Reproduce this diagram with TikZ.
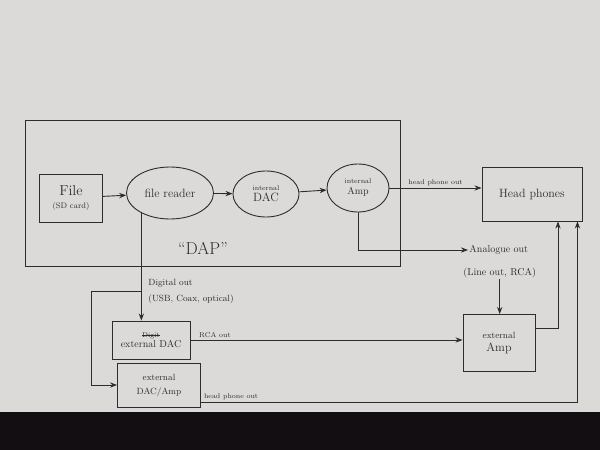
\documentclass[tikz,border=0pt]{standalone}
\usepackage{tikz}
\usetikzlibrary{arrows.meta,calc,shapes.geometric,positioning}
\definecolor{paper}{HTML}{DCD9D9}
\definecolor{table}{HTML}{120E12}
\definecolor{pen}{HTML}{2E2C2C}
\newcommand\struckout[1]{\setbox0\hbox{#1}\rlap{\raisebox{0.5ex}{\rule{\wd0}{0.5pt}}}\box0}
\tikzset {
  >=Stealth,
  every node/.style={font=\small, text=pen},
}

\begin{document}
\begin{tikzpicture}[x=1pt,y=-1pt,line width=0.9pt,draw=pen,
    box/.style={draw=pen,rectangle,align=center,inner sep=2pt},
    blob/.style={draw=pen,ellipse,align=center,inner sep=1pt},
    lbl/.style={font=\scriptsize,inner sep=1pt}]
          \useasboundingbox (0,0) rectangle (600,450);
          \fill[paper] (0,0) rectangle (600,412);
          \fill[table] (0,412) rectangle (600,450);
          % the player
          \draw[pen] (25,120) rectangle (400,266);
          \node[font=\LARGE] (dap) at (203,248) {``DAP''};
          \node[box,minimum width=63,minimum height=48] (file) at (71,198)
            {{\Large File}\\[2pt]{\footnotesize (SD card)}};
          \node[blob,minimum width=87,minimum height=52,font=\large] (reader) at (170,193) {file reader};
          \node[blob,minimum width=66,minimum height=46] (idac) at (266,194)
            {{\scriptsize internal}\\{\large DAC}};
          \node[blob,minimum width=62,minimum height=48] (iamp) at (358,188)
            {{\scriptsize internal}\\{\normalsize Amp}};
          \draw[->,pen] (file) -- (reader);
          \draw[->,pen] (reader) -- (idac);
          \draw[->,pen] (idac) -- (iamp);
          % outside
          \node[box,minimum width=100,minimum height=54,font=\large] (phones) at (532,194) {Head phones};
          \node[anchor=west,font=\normalsize,inner sep=1pt] (analog) at (468,250) {Analogue out};
          \node[anchor=west,font=\normalsize,inner sep=1pt] (lineout) at (462,273) {(Line out, RCA)};
          \node[box,minimum width=72,minimum height=57] (xamp) at (499,343)
            {{\small external}\\[2pt]{\large Amp}};
          \node[box,minimum width=78,minimum height=38,font=\normalsize] (xdac) at (151,340)
            {{\scriptsize\struckout{Digit}}\\[-2pt]external DAC};
          \node[box,minimum width=83,minimum height=44] (xdacamp) at (159,385)
            {external\\[3pt]DAC/Amp};
          \node[anchor=west,inner sep=1pt] (digital) at (147,283) {Digital out};
          \node[anchor=west,inner sep=1pt] (usb) at (147,299) {(USB, Coax, optical)};
          \draw[->,pen] (iamp.east) -- (iamp.east -| phones.west)
            node[lbl,midway,above=1pt] {head phone out};
          \draw[->,pen] (iamp.south) |- (analog.west);
          \draw[->,pen] (lineout.south) -- (lineout.south |- xamp.north);
          \coordinate (split) at ($(reader.215 |- 0,291)$);
          \draw[->,pen] (reader.215) -- (reader.215 |- xdac.north);
          \draw[->,pen] (split) -- ++(-50,0) |- (xdacamp.west);
          \draw[->,pen] (xdac.east) -- (xdac.east -| xamp.west)
            node[lbl,pos=0.09,above=1pt] {RCA out};
          \coordinate (xampout) at ($(xamp.north east)!0.25!(xamp.south east)$);
          \draw[->,pen] (xampout) -| ([xshift=26pt]phones.south);
          \coordinate (hpout) at ([yshift=5pt]xdacamp.south east);
          \draw[->,pen] (hpout) -| ([xshift=-5pt]phones.south east)
            node[lbl,pos=0.04,above=1pt] {head phone out};
        \end{tikzpicture}
\end{document}
